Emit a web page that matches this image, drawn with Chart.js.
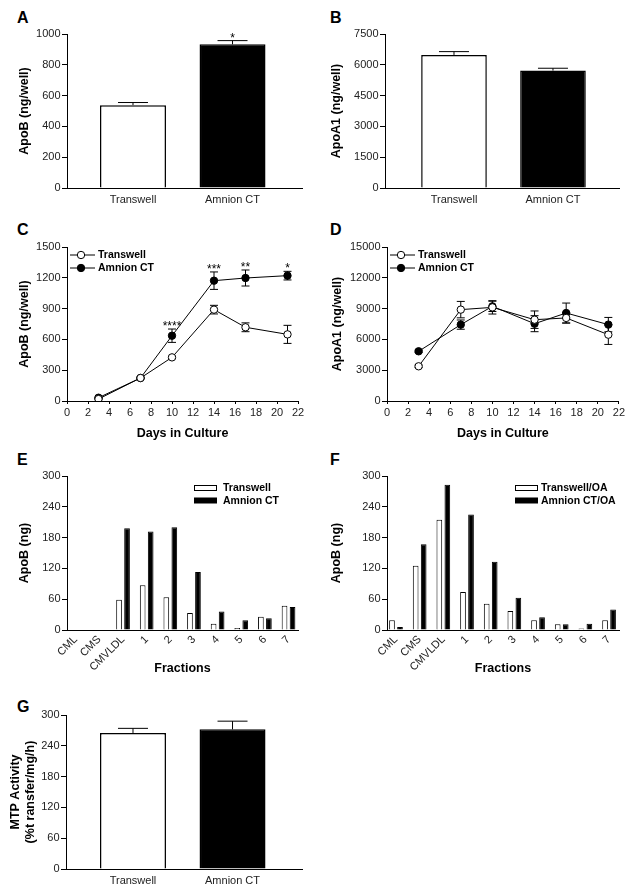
<!DOCTYPE html>
<html>
<head>
<meta charset="utf-8">
<script src="https://cdn.jsdelivr.net/npm/chart.js@4.4.1/dist/chart.umd.min.js"></script>
<style>
  body { margin: 0; background: #fff; }
  #fig { position: relative; width: 634px; height: 894px; overflow: hidden; }
  #fig canvas { position: absolute; }
  .tag { position: absolute; font: bold 16px "Liberation Sans", Arial, sans-serif; line-height: 1; color: #000; }
</style>
</head>
<body>
<div id="fig">
  <div class="tag" style="left:17px;top:10px">A</div>
  <div class="tag" style="left:330px;top:10px">B</div>
  <div class="tag" style="left:17px;top:222px">C</div>
  <div class="tag" style="left:330px;top:222px">D</div>
  <div class="tag" style="left:17px;top:452px">E</div>
  <div class="tag" style="left:330px;top:452px">F</div>
  <div class="tag" style="left:17px;top:699px">G</div>
</div>
<script>
// ---- data ----
const groups = ['Transwell', 'Amnion CT'];

// A: ApoB secreted per well
const apoBWell = [538, 933];
const apoBWellErr = [17, 24];
const apoBWellStars = ['', '*'];
const ticksA = [0, 200, 400, 600, 800, 1000];

// B: ApoA1 secreted per well
const apoA1Well = [6480, 5718];
const apoA1WellErr = [162, 114];
const ticksB = [0, 1500, 3000, 4500, 6000, 7500];

// C / D: time course
const days = [3, 7, 10, 14, 17, 21];
const dayTicks = [0, 2, 4, 6, 8, 10, 12, 14, 16, 18, 20, 22];
const apoBTranswell = [19, 224, 425, 890, 718, 649];
const apoBTranswellErr = [6, 8, 12, 42, 43, 88];
const apoBAmnion = [32, 224, 636, 1172, 1198, 1221];
const apoBAmnionErr = [6, 8, 65, 85, 78, 42];
const apoBStars = ['', '', '****', '***', '**', '*'];
const ticksC = [0, 300, 600, 900, 1200, 1500];

const apoA1Transwell = [3380, 8900, 9120, 7920, 8090, 6460];
const apoA1TranswellErr = [120, 800, 650, 850, 500, 950];
const apoA1Amnion = [4840, 7440, 9220, 7530, 8570, 7440];
const apoA1AmnionErr = [120, 450, 500, 780, 970, 700];
const ticksD = [0, 3000, 6000, 9000, 12000, 15000];

// E / F: density fractions
const fractions = ['CML', 'CMS', 'CMVLDL', '1', '2', '3', '4', '5', '6', '7'];
const fracTranswell = [1, 0, 59, 87, 64, 33, 12, 4, 26, 47];
const fracAmnion = [0, 0, 198, 192, 200, 113, 36, 19, 23, 45];
const fracTranswellOA = [19, 125, 215, 74, 51, 37, 19, 11, 3, 19];
const fracAmnionOA = [6, 167, 283, 225, 133, 63, 25, 11, 12, 40];
const ticksFrac = [0, 60, 120, 180, 240, 300];

// G: MTP activity
const mtp = [265, 272];
const mtpErr = [9, 16];
const ticksG = [0, 60, 120, 180, 240, 300];

// ---- helpers ----
const FONT = '"Liberation Sans", Arial, Helvetica, sans-serif';
Chart.defaults.font.family = FONT;
Chart.defaults.color = '#1a1a1a';

const pts = (xs, ys) => ys.map((v, i) => ({x: xs[i], y: v}));
const idx = arr => arr.map((_, i) => i);

// error bars, drawn under the marks; significance stars on top
const errorBars = {
  id: 'errorBars',
  beforeDatasetsDraw(chart) {
    const {ctx} = chart;
    const y = chart.scales.y;
    chart.data.datasets.forEach((ds, di) => {
      if (!ds.errors) return;
      const meta = chart.getDatasetMeta(di);
      ctx.save();
      ctx.strokeStyle = '#000';
      ctx.lineWidth = 1;
      meta.data.forEach((el, i) => {
        const e = ds.errors[i];
        if (!e) return;
        const v = ds.data[i].y;
        const top = y.getPixelForValue(v + e);
        const bot = y.getPixelForValue(ds.errorBoth ? v - e : v);
        const c = ds.errorCap;
        ctx.beginPath();
        ctx.moveTo(el.x, top); ctx.lineTo(el.x, bot);
        ctx.moveTo(el.x - c, top); ctx.lineTo(el.x + c, top);
        if (ds.errorBoth) { ctx.moveTo(el.x - c, bot); ctx.lineTo(el.x + c, bot); }
        ctx.stroke();
      });
      ctx.restore();
    });
  },
  afterDatasetsDraw(chart) {
    const {ctx} = chart;
    const y = chart.scales.y;
    chart.data.datasets.forEach((ds, di) => {
      if (!ds.stars) return;
      const meta = chart.getDatasetMeta(di);
      ctx.save();
      ctx.fillStyle = '#000';
      ctx.font = '12px ' + FONT;
      ctx.textAlign = 'center';
      ctx.textBaseline = 'alphabetic';
      meta.data.forEach((el, i) => {
        if (!ds.stars[i]) return;
        const v = ds.data[i].y + (ds.errors ? ds.errors[i] : 0);
        ctx.fillText(ds.stars[i], el.x, y.getPixelForValue(v) + 1);
      });
      ctx.restore();
    });
  }
};

// small legends drawn inside the plot area
const insetLegend = {
  id: 'insetLegend',
  afterDraw(chart, args, opts) {
    if (!opts || !opts.kind) return;
    const {ctx, chartArea} = chart;
    const x0 = chartArea.left + opts.dx;
    ctx.save();
    ctx.font = 'bold 10.5px ' + FONT;
    ctx.textBaseline = 'middle';
    ctx.textAlign = 'left';
    chart.data.datasets.forEach((ds, i) => {
      const yy = chartArea.top + opts.dy + i * opts.gap;
      ctx.strokeStyle = '#000';
      ctx.lineWidth = 1;
      if (opts.kind === 'line') {
        ctx.beginPath(); ctx.moveTo(x0, yy); ctx.lineTo(x0 + 25, yy); ctx.stroke();
        ctx.beginPath(); ctx.arc(x0 + 11, yy, ds.pointRadius, 0, Math.PI * 2);
        ctx.fillStyle = ds.pointBackgroundColor; ctx.fill(); ctx.stroke();
        ctx.fillStyle = '#000';
        ctx.fillText(ds.label, x0 + 28, yy + 0.5);
      } else {
        ctx.fillStyle = ds.backgroundColor;
        ctx.fillRect(x0, yy - 2.5, 23, 5);
        ctx.strokeRect(x0 + 0.5, yy - 2.5, 22, 5);
        ctx.fillStyle = '#000';
        ctx.fillText(ds.label, x0 + opts.textDx, yy + 0.5);
      }
    });
    ctx.restore();
  }
};

function yAxis(ticks, title, width, titlePad) {
  return {
    type: 'linear', min: ticks[0], max: ticks[ticks.length - 1],
    afterBuildTicks: s => { s.ticks = ticks.map(v => ({value: v})); },
    afterFit: s => { s.width = width; },
    grid: {display: true, drawOnChartArea: false, drawTicks: true, tickLength: 5, color: '#000'},
    border: {display: true, color: '#000', width: 1},
    ticks: {font: {size: 11}, padding: 1.5, color: '#222', callback: v => String(v)},
    title: {display: true, text: title, color: '#000', font: {size: 12.5, weight: 'bold'},
            padding: {top: titlePad, bottom: 0}}
  };
}

function xCat(labels, min, max, height, rotated, title) {
  return {
    type: 'linear', min: min, max: max, offset: false,
    afterBuildTicks: s => { s.ticks = labels.map((_, i) => ({value: i})); },
    afterFit: s => { s.height = height; },
    grid: {display: false, drawTicks: false},
    border: {display: true, color: '#000', width: 1},
    ticks: {font: {size: 11}, color: '#222', padding: rotated ? 3 : 5, autoSkip: false,
            minRotation: rotated ? 45 : 0, maxRotation: rotated ? 45 : 0,
            callback: v => labels[v]},
    title: {display: !!title, text: title || '', color: '#000', font: {size: 12.5, weight: 'bold'},
            padding: {top: 0, bottom: 0}}
  };
}

function xDays(height) {
  return {
    type: 'linear', min: dayTicks[0], max: dayTicks[dayTicks.length - 1],
    afterBuildTicks: s => { s.ticks = dayTicks.map(v => ({value: v})); },
    afterFit: s => { s.height = height; },
    grid: {display: true, drawOnChartArea: false, tickLength: 3, color: '#000'},
    border: {display: true, color: '#000', width: 1},
    ticks: {font: {size: 11}, color: '#222', padding: 2, maxRotation: 0, autoSkip: false,
            callback: v => String(v)},
    title: {display: true, text: 'Days in Culture', color: '#000', font: {size: 12.5, weight: 'bold'},
            padding: {top: 0, bottom: 0}}
  };
}

function panel(box, config) {
  const c = document.createElement('canvas');
  c.width = box.w; c.height = box.h;
  c.style.left = box.x + 'px'; c.style.top = box.y + 'px';
  c.style.width = box.w + 'px'; c.style.height = box.h + 'px';
  document.getElementById('fig').appendChild(c);
  config.options = Object.assign({
    responsive: false, animation: false, devicePixelRatio: 1,
  }, config.options);
  config.options.plugins = Object.assign({legend: {display: false}, tooltip: {enabled: false}},
                                         config.options.plugins || {});
  config.plugins = [errorBars, insetLegend];
  return new Chart(c, config);
}

function twoBarPanel(box, vals, errs, stars, ticks, title, yW, tPad, xmin, xmax, pad) {
  return panel(box, {
    type: 'bar',
    data: {datasets: [{
      data: pts(idx(groups), vals),
      errors: errs, errorCap: 15, errorBoth: false, stars: stars,
      backgroundColor: ['#fff', '#000'], borderColor: '#000', borderWidth: 1.5,
      categoryPercentage: 1, barPercentage: 0.663
    }]},
    options: {
      layout: {padding: pad},
      scales: {x: xCat(groups, xmin, xmax, box.h - pad.bottomAt, false), y: yAxis(ticks, title, yW, tPad)}
    }
  });
}

// A
twoBarPanel({x: 0, y: 0, w: 310, h: 215}, apoBWell, apoBWellErr, apoBWellStars, ticksA,
  'ApoB (ng/well)', 67, 17, 1 - 1.663, 1.698, {top: 34, right: 8, left: 0, bottom: 0, bottomAt: 188});
// B
twoBarPanel({x: 317, y: 0, w: 310, h: 215}, apoA1Well, apoA1WellErr, null, ticksB,
  'ApoA1 (ng/well)', 68, 12.5, 1 - 1.697, 1.667, {top: 34, right: 8, left: 0, bottom: 0, bottomAt: 188});
// G
twoBarPanel({x: 0, y: 690, w: 310, h: 204}, mtp, mtpErr, null, ticksG,
  ['MTP Activity', '(%t ransfer/mg/h)'], 66, 8.5, 1 - 1.673, 1.698, {top: 25, right: 8, left: 0, bottom: 0, bottomAt: 179});

function linePanel(box, yT, yE, yA, eA, stars, ticks, title, yW, tPad, pad) {
  const common = {borderColor: '#000', borderWidth: 1, pointRadius: 3.7, pointBorderColor: '#000',
                  pointBorderWidth: 1, errorCap: 4, errorBoth: true, tension: 0};
  return panel(box, {
    type: 'line',
    data: {datasets: [
      Object.assign({label: 'Transwell', data: pts(days, yT), errors: yE,
                     pointBackgroundColor: '#fff'}, common),
      Object.assign({label: 'Amnion CT', data: pts(days, yA), errors: eA, stars: stars,
                     pointBackgroundColor: '#000'}, common)
    ]},
    options: {
      layout: {padding: pad},
      scales: {x: xDays(40), y: yAxis(ticks, title, yW, tPad)},
      plugins: {insetLegend: {kind: 'line', dx: 3, dy: 8, gap: 13}}
    }
  });
}

// C
linePanel({x: 0, y: 210, w: 310, h: 231}, apoBTranswell, apoBTranswellErr, apoBAmnion, apoBAmnionErr,
  apoBStars, ticksC, 'ApoB (ng/well)', 67, 17.5, {top: 37, right: 12, left: 0, bottom: 0});
// D
linePanel({x: 317, y: 210, w: 310, h: 231}, apoA1Transwell, apoA1TranswellErr, apoA1Amnion, apoA1AmnionErr,
  null, ticksD, 'ApoA1 (ng/well)', 70, 13.5, {top: 37, right: 8, left: 0, bottom: 0});

function fracPanel(box, a, b, labels, yW, tPad, xmin, xmax, pad, legendDx, textDx) {
  const common = {borderColor: '#000', borderWidth: 1, categoryPercentage: 0.677, barPercentage: 0.71};
  return panel(box, {
    type: 'bar',
    data: {datasets: [
      Object.assign({label: labels[0], data: pts(idx(fractions), a), backgroundColor: '#fff'}, common),
      Object.assign({label: labels[1], data: pts(idx(fractions), b), backgroundColor: '#000'}, common)
    ]},
    options: {
      layout: {padding: pad},
      scales: {x: xCat(fractions, xmin, xmax, 46, true, 'Fractions'), y: yAxis(ticksFrac, 'ApoB (ng)', yW, tPad)},
      plugins: {insetLegend: {kind: 'box', dx: legendDx, dy: 12, gap: 12.5, textDx: textDx}}
    }
  });
}

// E
fracPanel({x: 0, y: 440, w: 310, h: 236}, fracTranswell, fracAmnion, ['Transwell', 'Amnion CT'],
  67, 17.5, -0.37, 9.40, {top: 36, right: 12, left: 0, bottom: 0}, 127, 29);
// F
fracPanel({x: 317, y: 440, w: 310, h: 236}, fracTranswellOA, fracAmnionOA, ['Transwell/OA', 'Amnion CT/OA'],
  70, 12.5, -0.38, 9.42, {top: 36, right: 8, left: 0, bottom: 0}, 128, 26);
</script>
</body>
</html>
